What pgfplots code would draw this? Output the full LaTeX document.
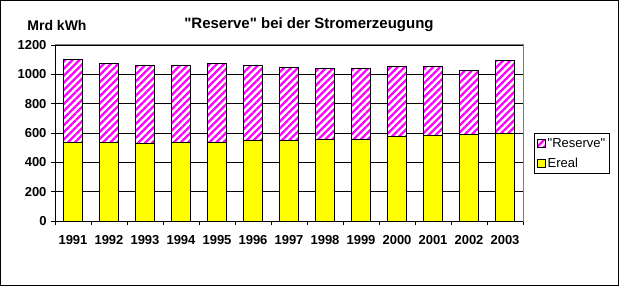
\documentclass[border=0pt]{standalone}
\usepackage{fontspec}
\setmainfont{Liberation Sans}[Ligatures=TeXOff]
\usepackage{pgfplots}
\pgfplotsset{compat=1.18}
\usetikzlibrary{patterns.meta}
\definecolor{ryellow}{RGB}{255,255,0}
\definecolor{rmag}{RGB}{255,0,255}
\begin{document}
\begin{tikzpicture}[x=1bp,y=1bp]
\useasboundingbox (0,0) rectangle (620,288);
\draw[line width=1bp] (0.5,2.5) rectangle (618,287.5);
\node[font=\bfseries\fontsize{15bp}{17bp}\selectfont] at (309,263) {"Reserve" bei der Stromerzeugung};
\node[font=\bfseries\fontsize{14bp}{16bp}\selectfont] at (57,263) {Mrd kWh};
\begin{axis}[
  at={(55bp,67bp)}, anchor=south west,
  scale only axis, width=468bp, height=176bp,
  ybar stacked, bar width=19bp,
  xmin=-0.5, xmax=12.5, ymin=0, ymax=1200,
  ytick={0,200,...,1200},
  xtick={0,...,12},
  xticklabels={1991,1992,1993,1994,1995,1996,1997,1998,1999,2000,2001,2002,2003},
  major x tick style={draw=none},
  minor xtick={-0.5,0.5,...,12.5},
  minor tick length=4bp,
  major tick length=4bp,
  tick align=outside,
  xtick pos=bottom, ytick pos=left,
  tick style={black, line width=0.8bp},
  ymajorgrids, grid style={black, line width=0.8bp},
  axis line style={draw=gray, line width=1bp},
  /pgf/number format/assume math mode=true,
  /pgf/number format/1000 sep={},
  ticklabel style={font=\bfseries\fontsize{13bp}{15bp}\selectfont},
  xticklabel style={yshift=-7bp},
  yticklabel style={xshift=-1bp},
  reverse legend,
  legend style={at={(1.0235,0.498)}, anchor=north west, draw=black, line width=0.8bp,
    font=\fontsize{13bp}{15bp}\selectfont, inner xsep=2.5bp, inner ysep=2.5bp,
    row sep=5bp, cells={anchor=west}},
  legend image code/.code={\draw[#1,draw=black,line width=0.8bp] (0bp,-4bp) rectangle (8bp,4bp);},
]
\addplot[fill=ryellow, draw=black, line width=1bp] coordinates {
(0,538) (1,538) (2,529) (3,533) (4,533) (5,552) (6,552) (7,559) (8,556) (9,573) (10,586) (11,588) (12,600)};
\addlegendentry{Ereal}
\addplot[draw=black, line width=1bp, fill=white, postaction={pattern={Lines[angle=45,distance=5bp,line width=2.3bp]}, pattern color=rmag}] coordinates {
(0,564) (1,538) (2,531) (3,527) (4,543) (5,508) (6,494) (7,483) (8,486) (9,483) (10,470) (11,440) (12,496)};
\addlegendentry{"Reserve"}
\draw[black, line width=1bp] (rel axis cs:0,1) -- (rel axis cs:0,0) -- (rel axis cs:1,0);
\end{axis}
\end{tikzpicture}
\end{document}
